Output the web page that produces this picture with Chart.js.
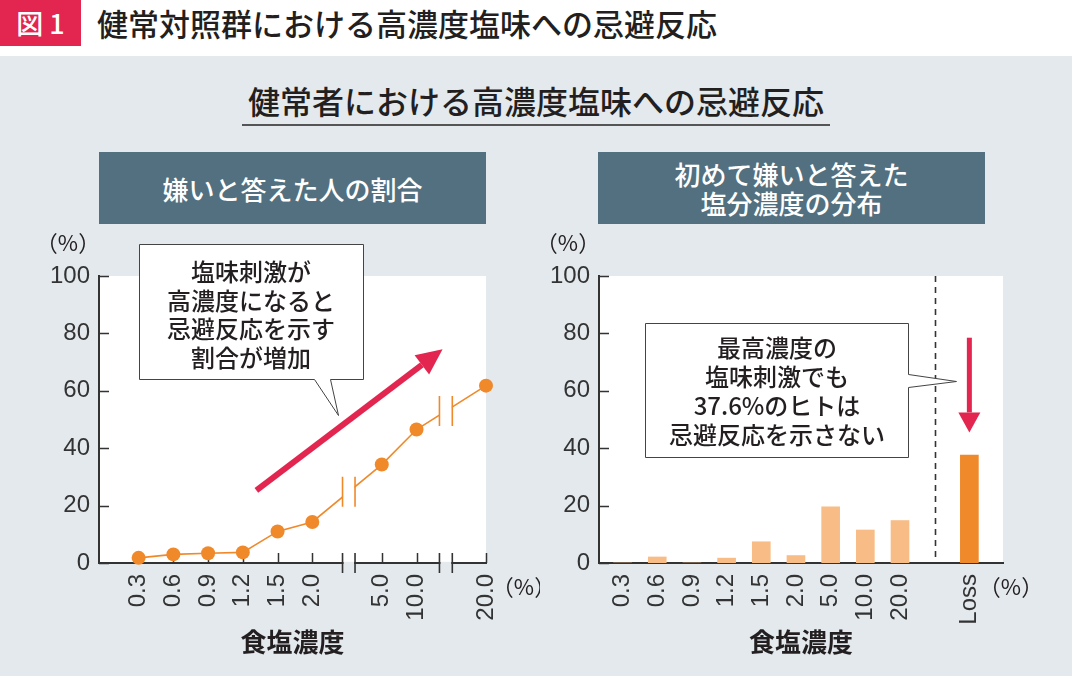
<!DOCTYPE html>
<html lang="ja">
<head>
<meta charset="utf-8">
<script src="https://cdn.jsdelivr.net/npm/chart.js@4"></script>
<style>
  html, body { margin: 0; padding: 0; background: #fff; }
  body { width: 1072px; height: 676px; position: relative; overflow: hidden;
         font-family: "Noto Sans CJK JP", sans-serif; color: #231f20; }
  .abs { position: absolute; }
  #fig { left: 0; top: 0; width: 81px; height: 46px; background: #e2264f; color: #fff;
         font-size: 27px; font-weight: 500; line-height: 46px; text-align: center; white-space: pre; }
  #head { left: 97px; top: 0; height: 46px; line-height: 46px; font-size: 31px; font-weight: 500; }
  #panel { left: 0; top: 56px; width: 1072px; height: 620px; background: #e3e9ed; }
  #title { left: 0; width: 1072px; top: 78px; text-align: center; font-size: 32px; font-weight: 500; line-height: 44px; }
  #uline { left: 242px; top: 124px; width: 588px; height: 2px; background: #555; }
  .box { top: 152px; width: 387px; height: 72px; background: #52707f; color: #fff; font-size: 26px;
         font-weight: 500; display: flex; align-items: center; justify-content: center; text-align: center; line-height: 29px; }
  canvas { position: absolute; }
</style>
</head>
<body>
<div class="abs" id="panel"></div>
<div class="abs" id="fig">図 1</div>
<div class="abs" id="head">健常対照群における高濃度塩味への忌避反応</div>
<div class="abs" id="title">健常者における高濃度塩味への忌避反応</div>
<div class="abs" id="uline"></div>
<div class="abs box" style="left:99px">嫌いと答えた人の割合</div>
<div class="abs box" style="left:598px">初めて嫌いと答えた<br>塩分濃度の分布</div>
<canvas id="left" width="510" height="448" style="left:30px;top:228px"></canvas>
<canvas id="right" width="542" height="448" style="left:530px;top:228px"></canvas>
<script>
// 左：嫌いと答えた人の割合（空欄は軸の省略部分）
const leftLabels = ['0.3', '0.6', '0.9', '1.2', '1.5', '2.0', '', '5.0', '10.0', '', '20.0'];
const leftValues = [1.8, 3.0, 3.4, 3.7, 11.0, 14.3, null, 34.3, 46.5, null, 61.8];

// 右：初めて嫌いと答えた塩分濃度の分布
const rightLabels = ['0.3', '0.6', '0.9', '1.2', '1.5', '2.0', '5.0', '10.0', '20.0', '', 'Loss'];
const rightValues = [0, 2.1, 0, 1.7, 7.4, 2.6, 19.6, 11.5, 14.8, null, 37.6];

const yTicks = [0, 20, 40, 60, 80, 100];

const ORANGE = '#f0892a';
const LIGHT = '#f8bd86';
const RED = '#e2264f';
const INK = '#231f20';
const AXIS = '#333';
const PANEL = '#e3e9ed';
const NUM_FONT = { family: '"Liberation Sans", Arial, sans-serif', size: 24, weight: '400' };
const JP = '"Noto Sans CJK JP", sans-serif';

Chart.defaults.font.family = JP;
Chart.defaults.color = INK;

// 白い描画領域＋内向きの目盛り
function frame(xTickIdx) {
  return {
    id: 'frame',
    beforeDraw(chart) {
      const { ctx, chartArea: a } = chart;
      ctx.save();
      ctx.fillStyle = '#fff';
      ctx.fillRect(a.left, a.top, a.right - a.left, a.bottom - a.top);
      ctx.restore();
    },
    beforeDatasetsDraw(chart) {
      const { ctx, chartArea: a, scales } = chart;
      ctx.save();
      ctx.strokeStyle = AXIS;
      ctx.lineWidth = 1.5;
      ctx.beginPath();
      yTicks.forEach(v => {
        const y = Math.round(scales.y.getPixelForValue(v)) + 0.5;
        ctx.moveTo(a.left, y); ctx.lineTo(a.left + 10, y);
      });
      xTickIdx.forEach(i => {
        const x = Math.round(scales.x.getPixelForValue(i)) + 0.5;
        ctx.moveTo(x, a.bottom); ctx.lineTo(x, a.bottom - 10);
      });
      ctx.stroke();
      ctx.restore();
    }
  };
}

function drawText(ctx, lines, cx, y0, step, font) {
  ctx.font = font;
  ctx.fillStyle = INK;
  ctx.textAlign = 'center';
  ctx.textBaseline = 'middle';
  lines.forEach((t, i) => ctx.fillText(t, cx, y0 + i * step));
}

function arrow(ctx, x1, y1, x2, y2, w, head, half) {
  const ang = Math.atan2(y2 - y1, x2 - x1);
  const bx = x2 - Math.cos(ang) * head, by = y2 - Math.sin(ang) * head;
  ctx.save();
  ctx.strokeStyle = RED; ctx.fillStyle = RED; ctx.lineWidth = w;
  ctx.beginPath(); ctx.moveTo(x1, y1); ctx.lineTo(bx, by); ctx.stroke();
  ctx.beginPath();
  ctx.moveTo(x2, y2);
  ctx.lineTo(bx + Math.sin(ang) * half, by - Math.cos(ang) * half);
  ctx.lineTo(bx - Math.sin(ang) * half, by + Math.cos(ang) * half);
  ctx.closePath(); ctx.fill();
  ctx.restore();
}

function labels(chart) {
  const { ctx } = chart;
  ctx.save();
  drawText(ctx, ['（%）'], 38, 15, 0, '400 22px ' + JP);
  drawText(ctx, ['食塩濃度'], (chart.chartArea.left + chart.chartArea.right) / 2, 414, 0, '700 26px ' + JP);
  ctx.restore();
}

function axisOpts(labelsArr, min, max, fitH) {
  return {
    type: 'linear', min, max, offset: false,
    afterBuildTicks: s => { s.ticks = labelsArr.map((l, i) => ({ value: i })); },
    afterFit: s => { s.height = fitH; },
    grid: { display: false, drawTicks: false, offset: false },
    border: { color: AXIS, width: 2 },
    ticks: { autoSkip: false, minRotation: 90, maxRotation: 90, padding: 11,
             font: NUM_FONT, color: '#333', callback: v => labelsArr[v] ?? '' }
  };
}
const yOpts = {
  min: 0, max: 100,
  afterBuildTicks: s => { s.ticks = yTicks.map(v => ({ value: v })); },
  afterFit: s => { s.width = 69; },
  grid: { display: false, drawTicks: false },
  border: { color: AXIS, width: 2 },
  ticks: { padding: 9, font: NUM_FONT, color: '#333' }
};

// 左グラフ：省略記号（二重線）
const breaks = [[5.87, 6.23], [8.66, 9.03]];
const leftDeco = {
  id: 'leftDeco',
  afterDatasetsDraw(chart) {
    const { ctx, chartArea: a, scales } = chart;
    const pts = chart.getDatasetMeta(0).data;
    const lineY = x => {
      for (let i = 0; i < pts.length - 1; i++) {
        if (pts[i].x <= x && x <= pts[i + 1].x) {
          const t = (x - pts[i].x) / (pts[i + 1].x - pts[i].x);
          return pts[i].y + t * (pts[i + 1].y - pts[i].y);
        }
      }
      return a.bottom;
    };
    ctx.save();
    breaks.forEach(([b1, b2]) => {
      const x1 = scales.x.getPixelForValue(b1), x2 = scales.x.getPixelForValue(b2);
      const y1 = lineY(x1), y2 = lineY(x2), yc = (y1 + y2) / 2;
      ctx.fillStyle = '#fff';
      ctx.fillRect(x1 + 0.5, yc - 20, x2 - x1 - 1, 40);
      ctx.strokeStyle = ORANGE; ctx.lineWidth = 1.6;
      ctx.beginPath();
      ctx.moveTo(x1, yc - 15); ctx.lineTo(x1, yc + 15);
      ctx.moveTo(x2, yc - 15); ctx.lineTo(x2, yc + 15);
      ctx.stroke();
      // 軸の切れ目
      ctx.fillStyle = PANEL;
      ctx.fillRect(x1 + 1, a.bottom - 1.2, x2 - x1 - 2, 2.4);
      ctx.strokeStyle = AXIS; ctx.lineWidth = 1.6;
      ctx.beginPath();
      ctx.moveTo(x1, a.bottom - 10); ctx.lineTo(x1, a.bottom + 10);
      ctx.moveTo(x2, a.bottom - 10); ctx.lineTo(x2, a.bottom + 10);
      ctx.stroke();
    });
    // 上昇を示す矢印
    arrow(ctx, scales.x.getPixelForValue(3.39), scales.y.getPixelForValue(25.3),
          scales.x.getPixelForValue(8.75), scales.y.getPixelForValue(74.5), 6, 26, 12);
    // 吹き出し
    ctx.fillStyle = '#fff'; ctx.strokeStyle = '#444'; ctx.lineWidth = 1;
    ctx.beginPath();
    ctx.moveTo(109.5, 16.5); ctx.lineTo(333.5, 16.5); ctx.lineTo(333.5, 151.5);
    ctx.lineTo(300.5, 151.5); ctx.lineTo(308.5, 187.5); ctx.lineTo(284.5, 151.5);
    ctx.lineTo(109.5, 151.5); ctx.closePath();
    ctx.fill(); ctx.stroke();
    drawText(ctx, ['塩味刺激が', '高濃度になると', '忌避反応を示す', '割合が増加'], 221, 44, 28.5, '500 24px ' + JP);
    drawText(ctx, ['（%）'], 494, 359, 0, '400 22px ' + JP);
    labels(chart);
    ctx.restore();
  }
};

new Chart(document.getElementById('left'), {
  type: 'line',
  data: {
    datasets: [{
      data: leftValues.map((v, i) => ({ x: i, y: v })).filter(p => p.y !== null),
      borderColor: ORANGE, borderWidth: 1.6,
      pointRadius: 7, pointBackgroundColor: ORANGE, pointBorderWidth: 0,
      tension: 0, clip: false
    }]
  },
  options: {
    responsive: false, devicePixelRatio: 1, animation: false,
    layout: { padding: { left: 0, top: 48, right: 54, bottom: 0 } },
    plugins: { legend: { display: false }, tooltip: { enabled: false } },
    scales: { x: axisOpts(leftLabels, -1.14, 10, 113), y: yOpts }
  },
  plugins: [frame(leftLabels.map((l, i) => l ? i : null).filter(i => i !== null)), leftDeco]
});

// 右グラフ：破線・矢印・吹き出し
const rightDeco = {
  id: 'rightDeco',
  beforeDatasetsDraw(chart) {
    const { ctx, chartArea: a, scales } = chart;
    const x = Math.round(scales.x.getPixelForValue(9)) + 0.5;
    ctx.save();
    ctx.strokeStyle = AXIS; ctx.lineWidth = 1.6; ctx.setLineDash([6, 5]);
    ctx.beginPath(); ctx.moveTo(x, a.top); ctx.lineTo(x, a.bottom); ctx.stroke();
    ctx.restore();
  },
  afterDatasetsDraw(chart) {
    const { ctx, scales } = chart;
    ctx.save();
    const ax = scales.x.getPixelForValue(10);
    arrow(ctx, ax, scales.y.getPixelForValue(78.5), ax, scales.y.getPixelForValue(45.5), 5, 20, 11);
    ctx.fillStyle = '#fff'; ctx.strokeStyle = '#444'; ctx.lineWidth = 1;
    ctx.beginPath();
    ctx.moveTo(115.5, 95.5); ctx.lineTo(378.5, 95.5); ctx.lineTo(378.5, 146.5);
    ctx.lineTo(426.5, 153.5); ctx.lineTo(378.5, 159.5); ctx.lineTo(378.5, 229.5);
    ctx.lineTo(115.5, 229.5); ctx.closePath();
    ctx.fill(); ctx.stroke();
    drawText(ctx, ['最高濃度の', '塩味刺激でも', '37.6%のヒトは', '忌避反応を示さない'], 247, 120, 29, '500 24px ' + JP);
    drawText(ctx, ['（%）'], 481, 359, 0, '400 22px ' + JP);
    labels(chart);
    ctx.restore();
  }
};

new Chart(document.getElementById('right'), {
  type: 'bar',
  data: {
    datasets: [{
      data: rightValues.map((v, i) => ({ x: i, y: v })).filter(p => p.y !== null),
      backgroundColor: rightLabels.filter((l, i) => rightValues[i] !== null).map(l => l === 'Loss' ? ORANGE : LIGHT),
      barThickness: 18, borderWidth: 0
    }]
  },
  options: {
    responsive: false, devicePixelRatio: 1, animation: false,
    layout: { padding: { left: 0, top: 48, right: 69, bottom: 0 } },
    plugins: { legend: { display: false }, tooltip: { enabled: false } },
    scales: { x: axisOpts(rightLabels, -0.68, 10.97, 113), y: yOpts }
  },
  plugins: [frame([]), rightDeco]
});
</script>
</body>
</html>
